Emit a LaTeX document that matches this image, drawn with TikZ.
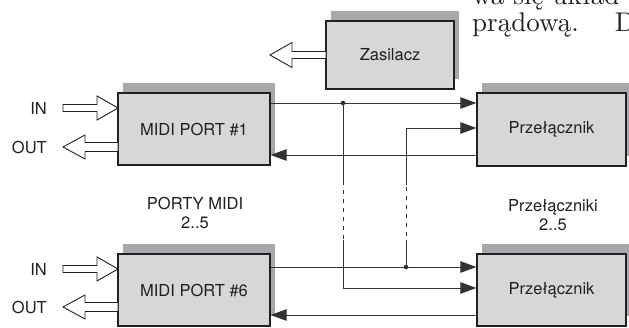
\documentclass[tikz,border=0pt]{standalone}
\usepackage{fontspec}
\newfontfamily\heros{TeX Gyre Heros}
\newfontfamily\bodyserif{lmroman10-regular}[Extension=.otf]
\usetikzlibrary{arrows.meta,shadows,calc}
\definecolor{ink}{HTML}{231F20}
\definecolor{wire}{HTML}{333333}
\definecolor{boxfill}{HTML}{D6D7D9}
\definecolor{boxshade}{HTML}{A7A8AB}
\tikzset{
  unit/.style={draw=ink, line width=1.3pt, fill=boxfill, text=ink,
    font=\heros\fontsize{16.5}{19}\selectfont, inner sep=0pt,
    drop shadow={shadow xshift=5pt, shadow yshift=10pt, fill=boxshade, opacity=1}},
  caption/.style={text=ink, font=\heros\fontsize{16.5}{18.5}\selectfont, align=center, inner sep=0pt},
  iolabel/.style={text=ink, font=\heros\fontsize{16.5}{19}\selectfont, inner sep=0pt, anchor=east},
  wireline/.style={draw=wire, line width=0.9pt},
  sig/.style={wireline, -{Triangle[length=16pt,width=11.5pt]}},
  junction/.style={circle, fill=ink, inner sep=0pt, minimum size=4.5pt},
  hollow/.style={draw=ink, line width=0.9pt, fill=white, line join=miter},
  pagetext/.style={text=ink, font=\bodyserif\fontsize{27}{27}\selectfont, inner sep=0pt, anchor=base west}
}
% hollow block arrow pointing right: tail x, head base x, tip x, y, shaft half, head half
\newcommand\blockright[6]{%
  \filldraw[hollow] (#1,#4-#5) -- (#2,#4-#5) -- (#2,#4-#6) -- (#3,#4)
    -- (#2,#4+#6) -- (#2,#4+#5) -- (#1,#4+#5) -- cycle;}
% hollow block arrow pointing left: tip x, head base x, tail x, y, shaft half, head half
\newcommand\blockleft[6]{%
  \filldraw[hollow] (#3,#4-#5) -- (#2,#4-#5) -- (#2,#4-#6) -- (#1,#4)
    -- (#2,#4+#6) -- (#2,#4+#5) -- (#3,#4+#5) -- cycle;}
\begin{document}
\begin{tikzpicture}[x=1pt, y=-1pt]
\clip (0,0) rectangle (629,327);
\fill[white] (0,0) rectangle (629,327);

% running text of the page
\node[pagetext] (line1) at (472,4) {wa się układ};
\node[pagetext] (line2) at (472,31) {prądową.\hspace{36pt}D};

% units
\node[unit, minimum width=152pt, minimum height=72pt] (m1) at (194,129) {MIDI PORT \#1};
\node[unit, minimum width=152pt, minimum height=72pt] (m6) at (194,290) {MIDI PORT \#6};
\node[unit, minimum width=128pt, minimum height=68pt] (ps) at (390,55) {Zasilacz};
\node[unit, minimum width=149pt, minimum height=73pt] (s1) at (551.5,129.5) {Przełącznik};
\node[unit, minimum width=149pt, minimum height=72pt] (s6) at (551.5,290) {Przełącznik};

% group captions
\node[caption] (capm) at (195,213) {PORTY MIDI\\2..5};
\node[caption] (caps) at (553,215) {Przełączniki\\2..5};

% MIDI in/out labels
\node[iolabel] (in1) at (47,108) {IN};
\node[iolabel] (out1) at (47,147) {OUT};
\node[iolabel] (in6) at (47,269) {IN};
\node[iolabel] (out6) at (47,307) {OUT};

% hollow arrows
\blockright{63}{97}{118}{108}{3.5}{12}
\blockleft{63}{85}{118}{147}{4.5}{12}
\blockright{63}{97}{118}{269}{3.5}{12}
\blockleft{63}{85}{118}{307}{4.5}{12}
\blockleft{270}{292}{326}{55}{3.5}{12.5}

% junctions and bus coordinates
\node[junction] (j1) at (343,103) {};
\node[junction] (j6) at (406,267) {};
\coordinate (t2) at (406,128);
\coordinate (b2) at (343,288);
\coordinate (r1) at (0,155);
\coordinate (r6) at (0,315);

% signals
\draw[sig] (m1.east |- j1) -- (s1.west |- j1);
\draw[sig] (m6.east |- j6) -- (s6.west |- j6);
\draw[sig] (s1.west |- r1) -- (m1.east |- r1);
\draw[sig] (s6.west |- r6) -- (m6.east |- r6);

% left bus: from j1 down to the lower switch
\draw[wireline] (j1.center) -- (343,185);
\draw[wireline, dash pattern=on 4pt off 5pt] (343,190) -- (343,240);
\draw[sig] (343,240) -- (b2) -- (s6.west |- b2);

% right bus: from j6 up to the upper switch
\draw[wireline] (j6.center) -- (406,240);
\draw[wireline, dash pattern=on 4pt off 5pt] (406,236) -- (406,185);
\draw[sig] (406,185) -- (t2) -- (s1.west |- t2);
\end{tikzpicture}
\end{document}
